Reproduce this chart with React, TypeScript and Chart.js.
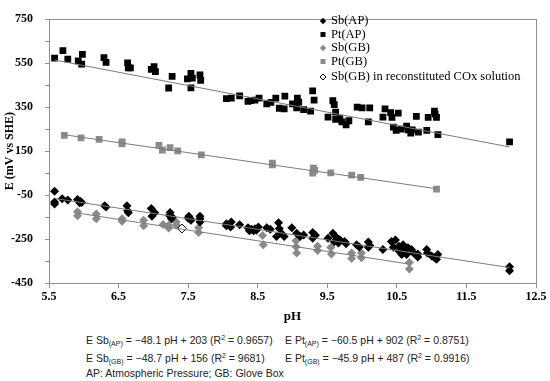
import React, { useEffect, useRef } from "react";
import { Chart, registerables } from "chart.js";

Chart.register(...registerables);

// ---------- data ----------
const X_TICKS = [5.5, 6.5, 7.5, 8.5, 9.5, 10.5, 11.5, 12.5];
const Y_TICKS = [-450, -350, -250, -150, -50, 50, 150, 250, 350, 450, 550, 650, 750];
const Y_LABELED = [-450, -250, -50, 150, 350, 550, 750];

const SB_AP_PH = [5.58, 5.58, 5.58, 5.69, 5.77, 5.91, 5.94, 5.97, 5.95, 6.30, 6.32, 6.62, 6.63, 6.64, 6.97, 6.98, 7.02, 7.24, 7.26, 7.23, 7.27, 7.51, 7.54, 7.50, 7.53, 7.67, 7.67, 7.67, 8.05, 8.12, 8.11, 8.05, 8.24, 8.36, 8.41, 8.46, 8.51, 8.38, 8.44, 8.48, 8.63, 8.68, 8.80, 8.81, 8.77, 8.84, 8.88, 8.99, 9.06, 9.11, 9.16, 9.29, 9.29, 9.33, 9.51, 9.58, 9.62, 9.60, 9.68, 9.66, 9.75, 9.77, 9.92, 9.96, 10.09, 10.09, 10.11, 10.30, 10.42, 10.48, 10.45, 10.53, 10.53, 10.59, 10.60, 10.64, 10.66, 10.57, 10.71, 10.74, 10.80, 10.80, 10.93, 10.94, 11.00, 11.04, 11.09, 11.07, 12.12, 12.12];
const SB_AP_E = [-33, -81, -91, -67, -73, -70, -85, -84, -78, -99, -104, -99, -121, -131, -111, -146, -131, -129, -158, -143, -150, -146, -165, -155, -158, -158, -172, -146, -180, -173, -195, -190, -185, -199, -206, -203, -195, -212, -212, -210, -199, -206, -176, -202, -239, -224, -239, -199, -224, -239, -232, -220, -246, -233, -247, -224, -239, -262, -253, -268, -261, -272, -276, -286, -264, -287, -279, -298, -261, -254, -287, -283, -304, -276, -297, -320, -290, -320, -298, -313, -332, -318, -298, -313, -327, -335, -320, -342, -376, -394];

const PT_AP_PH = [5.58, 5.70, 5.77, 5.92, 5.97, 5.98, 6.29, 6.32, 6.63, 6.64, 6.67, 6.97, 7.01, 7.03, 7.22, 7.27, 7.49, 7.54, 7.54, 7.56, 7.67, 7.68, 8.05, 8.12, 8.24, 8.36, 8.40, 8.46, 8.52, 8.63, 8.69, 8.76, 8.81, 8.88, 8.89, 9.00, 9.07, 9.09, 9.06, 9.16, 9.26, 9.29, 9.31, 9.58, 9.60, 9.51, 9.62, 9.62, 9.68, 9.71, 9.77, 9.81, 9.93, 10.00, 10.11, 10.09, 10.33, 10.30, 10.41, 10.43, 10.52, 10.45, 10.49, 10.56, 10.64, 10.66, 10.70, 10.72, 10.78, 10.81, 10.93, 10.95, 11.04, 11.05, 11.07, 11.09, 12.12];
const PT_AP_E = [573, 607, 568, 560, 546, 590, 575, 554, 551, 529, 529, 522, 534, 512, 437, 490, 479, 504, 438, 482, 497, 472, 389, 391, 401, 376, 380, 382, 391, 365, 372, 391, 345, 342, 400, 365, 391, 373, 347, 339, 332, 424, 382, 379, 361, 305, 327, 294, 298, 283, 269, 288, 350, 347, 347, 283, 342, 305, 325, 303, 323, 259, 244, 250, 264, 247, 232, 247, 308, 236, 244, 303, 332, 318, 303, 225, 192];

const SB_GB_PH = [5.91, 5.91, 6.18, 6.18, 6.55, 6.55, 6.86, 6.86, 7.14, 7.22, 7.22, 7.33, 7.33, 7.65, 7.65, 8.57, 8.58, 9.05, 9.05, 9.06, 9.36, 9.36, 9.55, 9.56, 9.85, 9.85, 9.99, 9.99, 10.68, 10.68];
const SB_GB_E = [-126, -144, -136, -158, -158, -169, -165, -190, -184, -187, -200, -173, -187, -199, -220, -234, -276, -258, -285, -313, -283, -302, -288, -318, -313, -338, -313, -335, -357, -386];

const PT_GB_PH = [5.72, 5.96, 6.22, 6.55, 6.55, 7.08, 7.13, 7.24, 7.35, 7.69, 8.71, 8.71, 9.30, 9.32, 9.29, 9.55, 9.85, 9.98, 11.07];
const PT_GB_E = [222, 210, 203, 192, 183, 176, 155, 166, 151, 133, 95, 87, 73, 62, 50, 51, 41, 30, -23];

const COX_PH = [7.41];
const COX_E = [-202];

// trendlines: slope, intercept, pH range
const TREND_NAMES = ["Sb(AP)", "Pt(AP)", "Sb(GB)", "Pt(GB)"];
const TREND_SLOPE = [-48.1, -60.5, -48.7, -45.9];
const TREND_INTERCEPT = [203, 902, 156, 487];
const TREND_START = [5.58, 5.58, 5.91, 5.72];
const TREND_END = [12.12, 12.12, 10.68, 11.07];

const LEGEND_LABELS = ["Sb(AP)", "Pt(AP)", "Sb(GB)", "Pt(GB)", "Sb(GB) in reconstituted COx solution"];

const BLACK = "#000000";
const GRAY = "#8a8a8a";
const AXIS_GRAY = "#8f8f8f";

const pts = (xs: number[], ys: number[]) => xs.map((x, i) => ({ x, y: ys[i] }));

const framePlugin = {
  id: "frame",
  beforeDatasetsDraw(chart: any) {
    const { ctx, chartArea: a } = chart;
    ctx.save();
    ctx.strokeStyle = AXIS_GRAY;
    ctx.lineWidth = 1;
    ctx.strokeRect(Math.round(a.left) + 0.5, Math.round(a.top) + 0.5, Math.round(a.right - a.left), Math.round(a.bottom - a.top));
    ctx.restore();
  },
};

function drawMarker(ctx: CanvasRenderingContext2D, kind: string, x: number, y: number, s: number, fill: string, stroke: string | null) {
  ctx.beginPath();
  if (kind === "diamond") {
    ctx.moveTo(x, y - s);
    ctx.lineTo(x + s, y);
    ctx.lineTo(x, y + s);
    ctx.lineTo(x - s, y);
    ctx.closePath();
  } else {
    ctx.rect(x - s, y - s, 2 * s, 2 * s);
  }
  ctx.fillStyle = fill;
  ctx.fill();
  if (stroke) {
    ctx.strokeStyle = stroke;
    ctx.lineWidth = 1;
    ctx.stroke();
  }
}

const legendPlugin = {
  id: "customLegend",
  afterDraw(chart: any) {
    const ctx: CanvasRenderingContext2D = chart.ctx;
    const rows = [21, 34.5, 48, 61.5, 77];
    const marks = [
      ["diamond", BLACK, null, 3.2],
      ["square", BLACK, null, 2.5],
      ["diamond", GRAY, null, 3.2],
      ["square", GRAY, null, 2.5],
      ["diamond", "#ffffff", BLACK, 3],
    ] as any[];
    ctx.save();
    ctx.font = "12.5px 'Liberation Serif'";
    ctx.textBaseline = "middle";
    ctx.fillStyle = "#000";
    LEGEND_LABELS.forEach((lab, i) => {
      const m = marks[i];
      drawMarker(ctx, m[0], 323, rows[i], m[3], m[1], m[2]);
      ctx.fillStyle = "#000";
      ctx.fillText(lab, 331, rows[i]);
    });
    ctx.restore();
  },
};

function ChartView() {
  const ref = useRef<HTMLCanvasElement | null>(null);
  useEffect(() => {
    if (!ref.current) return;
    const trendSets = TREND_NAMES.map((n, i) => ({
      label: n + " trend",
      data: [
        { x: TREND_START[i], y: TREND_SLOPE[i] * TREND_START[i] + TREND_INTERCEPT[i] },
        { x: TREND_END[i], y: TREND_SLOPE[i] * TREND_END[i] + TREND_INTERCEPT[i] },
      ],
      showLine: true,
      borderColor: "#7a7a7a",
      borderWidth: 1,
      pointRadius: 0,
      order: 0,
    }));
    const chart = new Chart(ref.current, {
      type: "scatter",
      data: {
        datasets: [
          ...trendSets,
          { label: LEGEND_LABELS[2], data: pts(SB_GB_PH, SB_GB_E), pointStyle: "rectRot", radius: 4.5, backgroundColor: GRAY, borderColor: GRAY, borderWidth: 0, order: 3 } as any,
          { label: LEGEND_LABELS[3], data: pts(PT_GB_PH, PT_GB_E), pointStyle: "rect", radius: 4.8, backgroundColor: GRAY, borderColor: GRAY, borderWidth: 0, order: 3 } as any,
          { label: LEGEND_LABELS[0], data: pts(SB_AP_PH, SB_AP_E), pointStyle: "rectRot", radius: 4.5, backgroundColor: BLACK, borderColor: BLACK, borderWidth: 0, order: 2 } as any,
          { label: LEGEND_LABELS[1], data: pts(PT_AP_PH, PT_AP_E), pointStyle: "rect", radius: 4.8, backgroundColor: BLACK, borderColor: BLACK, borderWidth: 0, order: 2 } as any,
          { label: LEGEND_LABELS[4], data: pts(COX_PH, COX_E), pointStyle: "rectRot", radius: 4.5, backgroundColor: "#ffffff", borderColor: BLACK, borderWidth: 1, order: 1 } as any,
        ],
      },
      options: {
        animation: false,
        responsive: false,
        maintainAspectRatio: false,
        layout: { padding: { top: 11, right: 14, left: 0, bottom: 0 } },
        plugins: { legend: { display: false }, tooltip: { enabled: false } },
        scales: {
          x: {
            type: "linear",
            min: 5.5,
            max: 12.5,
            afterBuildTicks: (s: any) => { s.ticks = X_TICKS.map((v) => ({ value: v })); },
            afterFit: (s: any) => { s.height = 42; },
            grid: { drawOnChartArea: false, drawTicks: true, tickLength: 5, color: AXIS_GRAY },
            border: { display: true, color: AXIS_GRAY },
            ticks: {
              padding: 2,
              color: "#000",
              font: { family: "'Liberation Serif'", size: 12, weight: "bold" },
              callback: (v: any) => Number(v).toFixed(1),
              maxRotation: 0,
              autoSkip: false,
            },
            title: { display: true, text: "pH", color: "#000", font: { family: "'Liberation Serif'", size: 13, weight: "bold" }, padding: { top: 0, bottom: 1 } },
          },
          y: {
            type: "linear",
            min: -450,
            max: 750,
            afterBuildTicks: (s: any) => { s.ticks = Y_TICKS.map((v) => ({ value: v })); },
            afterFit: (s: any) => { s.width = 49; },
            grid: { drawOnChartArea: false, drawTicks: true, tickLength: 4, color: AXIS_GRAY },
            border: { display: true, color: AXIS_GRAY },
            ticks: {
              padding: 12,
              color: "#000",
              font: { family: "'Liberation Serif'", size: 12, weight: "bold" },
              callback: (v: any) => (Y_LABELED.includes(Number(v)) ? String(v) : ""),
              autoSkip: false,
            },
            title: { display: true, text: "E (mV vs SHE)", color: "#000", font: { family: "'Liberation Serif'", size: 12, weight: "bold" }, padding: { top: 3, bottom: 0 } },
          },
        },
      } as any,
      plugins: [framePlugin, legendPlugin],
    });
    return () => chart.destroy();
  }, []);
  return <canvas ref={ref} width={550} height={325} style={{ display: "block", width: 550, height: 325 }} />;
}

const eqStyle: React.CSSProperties = {
  position: "absolute",
  fontFamily: "'Liberation Sans', Arial, sans-serif",
  fontSize: 10.5,
  color: "#222",
  whiteSpace: "nowrap",
  lineHeight: "12px",
};
const subStyle: React.CSSProperties = { fontSize: 7, verticalAlign: "-2px" };
const supStyle: React.CSSProperties = { fontSize: 7, verticalAlign: "4px" };

function Eq({ el, sub, slope, icpt, r2, left, top }: any) {
  return (
    <div style={{ ...eqStyle, left, top }}>
      E {el}<span style={subStyle}>({sub})</span> = {slope} pH + {icpt} (R<span style={supStyle}>2</span> = {r2})
    </div>
  );
}

export default function App() {
  return (
    <div style={{ position: "absolute", left: 0, top: 0, width: 550, height: 381, background: "#fff" }}>
      <ChartView />
      <Eq el="Sb" sub="AP" slope="−48.1" icpt="203" r2="0.9657" left={86} top={332} />
      <Eq el="Pt" sub="AP" slope="−60.5" icpt="902" r2="0.8751" left={285} top={332} />
      <Eq el="Sb" sub="GB" slope="−48.7" icpt="156" r2="9681" left={86} top={350} />
      <Eq el="Pt" sub="GB" slope="−45.9" icpt="487" r2="0.9916" left={285} top={350} />
      <div style={{ ...eqStyle, left: 86, top: 367 }}>AP: Atmospheric Pressure; GB: Glove Box</div>
    </div>
  );
}
